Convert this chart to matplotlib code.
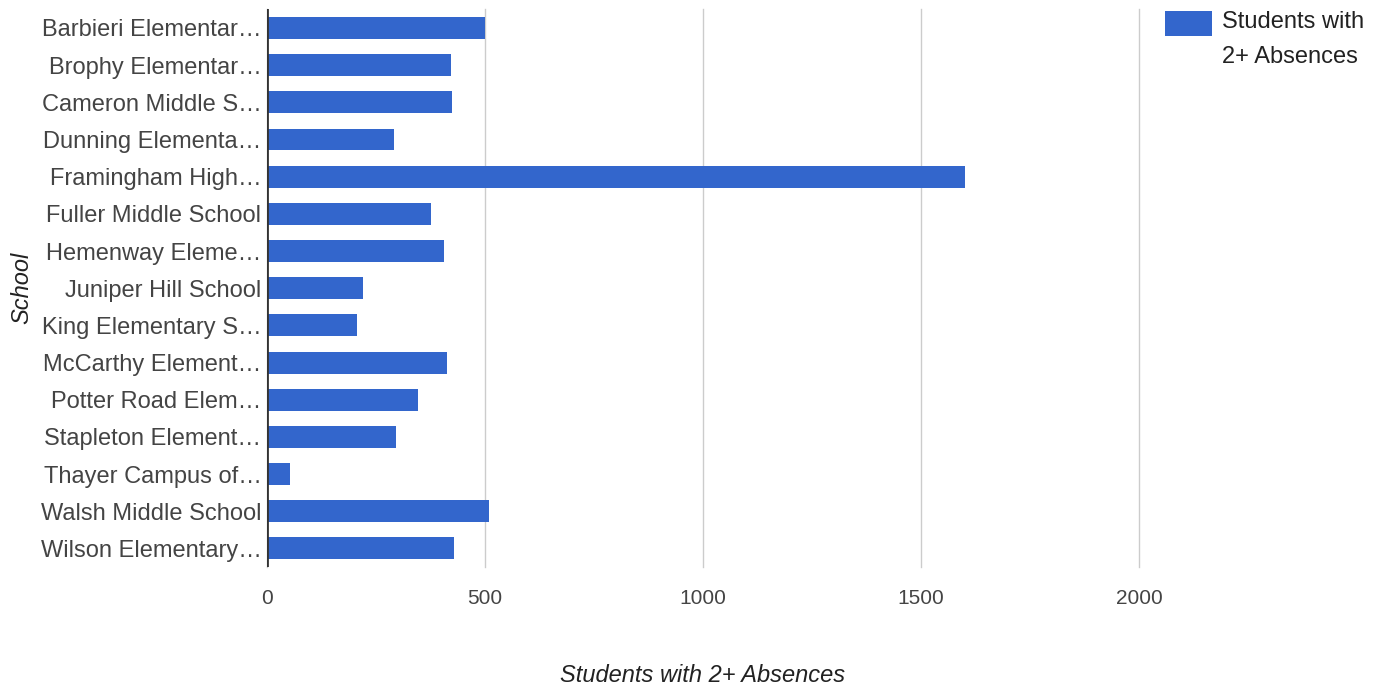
import matplotlib.pyplot as plt

schools = [
    "Barbieri Elementar…",
    "Brophy Elementar…",
    "Cameron Middle S…",
    "Dunning Elementa…",
    "Framingham High…",
    "Fuller Middle School",
    "Hemenway Eleme…",
    "Juniper Hill School",
    "King Elementary S…",
    "McCarthy Element…",
    "Potter Road Elem…",
    "Stapleton Element…",
    "Thayer Campus of…",
    "Walsh Middle School",
    "Wilson Elementary…",
]
absences = [501, 421, 425, 291, 1602, 375, 405, 220, 207, 413, 346, 296, 52, 510, 430]
x_ticks = [0, 500, 1000, 1500, 2000]

series_label = "Students with\n2+ Absences"
bar_color = "#3366cc"

plt.rcParams["font.family"] = ["Liberation Sans", "DejaVu Sans"]

fig = plt.figure(figsize=(13.88, 6.9), dpi=100)
ax = fig.add_axes([267 / 1388, 1 - 567 / 690, (1139 - 267) / 1388, (567 - 9.4) / 690])

y = range(len(schools))
ax.barh(y, absences, height=0.59, color=bar_color, label=series_label, zorder=2)

ax.set_xlim(0, 2000)
ax.set_ylim(len(schools) - 0.5, -0.5)
ax.set_xticks(x_ticks)
ax.set_xticklabels([str(t) for t in x_ticks])
ax.set_yticks(list(y))
ax.set_yticklabels(schools)

ax.tick_params(axis="y", length=0, pad=4, labelsize=17, labelcolor="#444444")
ax.tick_params(axis="x", length=0, pad=16, labelsize=15, labelcolor="#444444")

ax.grid(axis="x", color="#cccccc", linewidth=1, zorder=0)
for gl in ax.get_xgridlines():
    gl.set_clip_on(False)
for s in ax.spines.values():
    s.set_visible(False)
ax.axvline(0, color="#333333", linewidth=2, zorder=3)

ax.set_xlabel("Students with 2+ Absences", fontsize=17, style="italic",
              color="#222222", labelpad=40)
ax.set_ylabel("School", fontsize=17, style="italic", color="#222222", labelpad=5)

leg = ax.legend(
    loc="upper left",
    bbox_to_anchor=(1165 / 1388, 1 - 11 / 690),
    bbox_transform=fig.transFigure,
    frameon=False,
    fontsize=17,
    handlelength=2.0,
    handleheight=1.25,
    handletextpad=0.4,
    borderpad=0,
    borderaxespad=0,
)
for t in leg.get_texts():
    t.set_color("#222222")
    t.set_linespacing(1.75)
# keep the swatch level with the first line of the label
for col in leg._legend_handle_box.get_children():
    for row in col.get_children():
        row.align = "top"

fig.savefig("out.png", dpi=100)
